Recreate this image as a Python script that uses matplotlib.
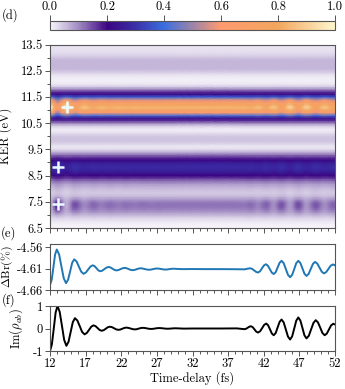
import numpy as np
import matplotlib
matplotlib.use('Agg')
import matplotlib.pyplot as plt
from matplotlib.colors import LinearSegmentedColormap
from matplotlib.ticker import MultipleLocator, FixedLocator, NullFormatter, FixedFormatter

plt.rcParams['font.family'] = 'serif'
plt.rcParams['font.serif'] = ['cmr10']
plt.rcParams['mathtext.fontset'] = 'cm'
plt.rcParams['axes.unicode_minus'] = False
plt.rcParams['axes.formatter.use_mathtext'] = True
plt.rcParams['font.size'] = 9

# ---------------- data ----------------
# Im(rho_ab) vs time-delay (fs)
t_im = [12.0, 12.26, 12.53, 12.79,
        13.05, 13.36, 13.68, 13.99,
        14.3, 14.6, 14.9, 15.2,
        15.5, 15.84, 16.18, 16.51,
        16.85, 17.16, 17.48, 17.79,
        18.1, 18.39, 18.68, 18.96,
        19.25, 19.54, 19.83, 20.11,
        20.4, 20.7, 21.0, 21.3,
        21.6, 21.88, 22.15, 22.43,
        22.7, 23.0, 23.3, 23.6,
        23.9, 24.18, 24.45, 24.73,
        25.0, 25.3, 25.6, 25.9,
        26.2, 26.48, 26.75, 27.03,
        27.3, 27.6, 27.9, 28.2,
        28.5, 28.78, 29.05, 29.33,
        29.6, 30.8, 32.0, 34.0,
        36.0, 38.2, 38.75,
        39.3, 39.53, 39.75, 39.98,
        40.2, 40.45, 40.7, 40.95,
        41.2, 41.49, 41.78, 42.06,
        42.35, 42.61, 42.88, 43.14,
        43.4, 43.68, 43.95, 44.23,
        44.5, 44.8, 45.1, 45.4,
        45.7, 45.99, 46.28, 46.56,
        46.85, 47.14, 47.43, 47.71,
        48.0, 48.33, 48.65, 48.98,
        49.3, 49.61, 49.93, 50.24,
        50.55, 50.85, 51.15, 51.45,
        51.75, 52.0]
im_rho = [-1.0, -0.71, 0.0, 0.71,
          1.0, 0.74, 0.115, -0.51,
          -0.77, -0.59, -0.155, 0.28,
          0.46, 0.355, 0.10, -0.155,
          -0.26, -0.20, -0.06, 0.08,
          0.14, 0.105, 0.02, -0.065,
          -0.10, -0.074, -0.01, 0.054,
          0.08, 0.06, 0.01, -0.04,
          -0.06, -0.045, -0.01, 0.025,
          0.04, 0.028, 0.0, -0.028,
          -0.04, -0.03, -0.005, 0.02,
          0.03, 0.023, 0.005, -0.013,
          -0.02, -0.014, 0.0, 0.014,
          0.02, 0.016, 0.005, -0.006,
          -0.01, -0.007, 0.0, 0.007,
          0.01, -0.005, 0.0, 0.0,
          0.0, 0.005, -0.012,
          -0.03, -0.011, 0.035, 0.081,
          0.10, 0.059, -0.04, -0.139,
          -0.18, -0.122, 0.02, 0.162,
          0.22, 0.144, -0.04, -0.224,
          -0.30, -0.198, 0.05, 0.298,
          0.40, 0.27, -0.045, -0.36,
          -0.49, -0.347, 0.0, 0.347,
          0.49, 0.354, 0.025, -0.304,
          -0.44, -0.322, -0.035, 0.252,
          0.37, 0.272, 0.035, -0.202,
          -0.30, -0.226, -0.045, 0.136,
          0.21, 0.18]

# Delta Br (%) vs time-delay (fs)
t_br = [12.0, 12.24, 12.48, 12.71,
        12.95, 13.28, 13.6, 13.93,
        14.25, 14.54, 14.83, 15.11,
        15.4, 15.73, 16.05, 16.38,
        16.7, 17.03, 17.35, 17.68,
        18.0, 18.26, 18.53, 18.79,
        19.05, 19.34, 19.63, 19.91,
        20.2, 20.49, 20.78, 21.06,
        21.35, 21.63, 21.9, 22.18,
        22.45, 22.74, 23.03, 23.31,
        23.6, 23.88, 24.15, 24.43,
        24.7, 25.0, 25.3, 25.6,
        25.9, 26.18, 26.45, 26.73,
        27.0, 27.3, 27.6, 27.9,
        28.2, 28.48, 28.75, 29.03,
        29.3, 30.5, 32.0, 34.0,
        36.0, 38.0, 39.3, 39.7,
        40.1, 40.38, 40.65, 40.93,
        41.2, 41.48, 41.75, 42.03,
        42.3, 42.58, 42.85, 43.13,
        43.4, 43.68, 43.95, 44.23,
        44.5, 44.8, 45.1, 45.4,
        45.7, 45.99, 46.28, 46.56,
        46.85, 47.14, 47.43, 47.71,
        48.0, 48.3, 48.6, 48.9,
        49.2, 49.51, 49.83, 50.14,
        50.45, 50.76, 51.08, 51.39,
        51.7, 52.0]
delta_br = [-4.648, -4.636, -4.6065, -4.577,
            -4.565, -4.5765, -4.6045, -4.6325,
            -4.644, -4.6358, -4.616, -4.5962,
            -4.588, -4.593, -4.605, -4.617,
            -4.622, -4.619, -4.612, -4.605,
            -4.602, -4.604, -4.609, -4.614,
            -4.616, -4.6145, -4.611, -4.6075,
            -4.606, -4.607, -4.610, -4.613,
            -4.614, -4.613, -4.611, -4.609,
            -4.608, -4.6088, -4.6108, -4.6127,
            -4.6135, -4.6128, -4.6113, -4.6097,
            -4.609, -4.6095, -4.6108, -4.612,
            -4.6125, -4.612, -4.611, -4.610,
            -4.6095, -4.6099, -4.6108, -4.6116,
            -4.612, -4.6117, -4.611, -4.6103,
            -4.610, -4.611, -4.6108, -4.611,
            -4.611, -4.6112, -4.6115, -4.610,
            -4.609, -4.6105, -4.614, -4.6175,
            -4.619, -4.616, -4.609, -4.6023,
            -4.5995, -4.6029, -4.611, -4.6191,
            -4.6225, -4.618, -4.607, -4.596,
            -4.5915, -4.5971, -4.6108, -4.6244,
            -4.630, -4.6244, -4.6108, -4.5971,
            -4.5915, -4.5967, -4.6093, -4.6218,
            -4.627, -4.6222, -4.6105, -4.5988,
            -4.594, -4.598, -4.6075, -4.617,
            -4.621, -4.618, -4.6105, -4.603,
            -4.600, -4.602]

# KER grid (eV) and time-averaged KER distribution + its modulation amplitude
ker = np.round(np.arange(6.5, 13.55, 0.1), 1)
ker_profile = [0.005, 0.005, 0.01, 0.02, 0.035, 0.06, 0.085, 0.105, 0.115, 0.12,
               0.11, 0.085, 0.06, 0.045, 0.045, 0.055, 0.07, 0.09, 0.12, 0.16,
               0.20, 0.24, 0.27, 0.285, 0.28, 0.255, 0.21, 0.165, 0.12, 0.07,
               0.03, 0.015, 0.03, 0.045, 0.05, 0.045, 0.03, 0.015, 0.015, 0.04,
               0.10, 0.17, 0.24, 0.42, 0.62, 0.74, 0.84, 0.78, 0.68, 0.56,
               0.38, 0.22, 0.17, 0.10, 0.04, 0.015, 0.01, 0.01, 0.015, 0.03,
               0.05, 0.06, 0.06, 0.06, 0.06, 0.05, 0.035, 0.025, 0.02, 0.02,
               0.02]
ker_modulation = [0, 0, 0, 0, 0.005, 0.01, 0.025, 0.045, 0.06, 0.065,
                  0.055, 0.03, 0.012, 0.008, 0.008, 0.01, 0.01, 0.008, 0.008, 0.008,
                  0.012, 0.02, 0.025, 0.025, 0.025, 0.02, 0.012, 0.008, 0, 0,
                  0, 0, 0, 0, 0, 0, 0, 0, 0, 0,
                  0, 0, -0.02, -0.06, -0.13, -0.16, -0.16, -0.16, -0.14, -0.09,
                  -0.04, -0.01, 0, 0, 0, 0, 0, 0, 0, 0,
                  0, 0, 0, 0, 0, 0, 0, 0, 0, 0,
                  0]

# marked points (time-delay, KER)
mark_t = [13.17, 13.17, 14.43]
mark_ker = [7.43, 8.83, 11.13]

xticks = [12, 17, 22, 27, 32, 37, 42, 47, 52]

# ---------------- figure ----------------
W, H = 345, 389
fig = plt.figure(figsize=(W / 100, H / 100), dpi=100)

def ax_at(x0, y0, x1, y1):
    return fig.add_axes([x0 / W, 1 - y1 / H, (x1 - x0) / W, (y1 - y0) / H])

cmap = LinearSegmentedColormap.from_list('ker', [
    (0.0, '#f8f6fb'), (0.1, '#a08ac2'), (0.2, '#3b0482'), (0.3, '#3a30a8'),
    (0.4, '#3a6ee0'), (0.6, '#ff9a70'), (0.8, '#f2a65e'), (1.0, '#fff6cc')])

spine_c = '#555555'

def style(ax):
    for s in ax.spines.values():
        s.set_color(spine_c)
        s.set_linewidth(0.8)
    ax.tick_params(which='both', direction='out', color=spine_c, width=0.7)
    ax.tick_params(which='major', length=3.5, pad=1.5)
    ax.tick_params(which='minor', length=2)

# heatmap
ax_d = ax_at(50, 44.5, 335, 228)
P = np.array(ker_profile)[:, None]
M = np.array(ker_modulation)[:, None]
C = np.clip(P + M * np.array(im_rho)[None, :], 0, 1)
mesh = ax_d.pcolormesh(np.array(t_im), ker, C, cmap=cmap, vmin=0, vmax=1,
                       shading='gouraud', rasterized=True)
ax_d.plot(mark_t, mark_ker, linestyle='none', marker='+', markersize=8,
          markeredgewidth=1.8, color='#eafcff')
ax_d.set_xlim(12, 52)
ax_d.set_ylim(6.5, 13.5)
ax_d.yaxis.set_major_locator(FixedLocator([6.5, 7.5, 8.5, 9.5, 10.5, 11.5, 12.5, 13.5]))
ax_d.yaxis.set_major_formatter(FixedFormatter(['6.5', '7.5', '8.5', '9.5', '10.5', '11.5', '12.5', '13.5']))
ax_d.yaxis.set_minor_locator(FixedLocator([7, 8, 9, 10, 11, 12, 13]))
ax_d.xaxis.set_major_locator(FixedLocator(xticks))
ax_d.xaxis.set_minor_locator(MultipleLocator(1))
ax_d.xaxis.set_major_formatter(NullFormatter())
ax_d.set_ylabel('KER (eV)')
ax_d.yaxis.set_label_coords((12.5 - 50) / 285, 0.5)
style(ax_d)

# colorbar
cax = ax_at(50, 20.5, 335, 30)
cb = fig.colorbar(mesh, cax=cax, orientation='horizontal')
cb.set_ticks([0, 0.2, 0.4, 0.6, 0.8, 1.0])
cb.set_ticklabels(['0.0', '0.2', '0.4', '0.6', '0.8', '1.0'])
cax.xaxis.set_ticks_position('top')
cax.xaxis.set_label_position('top')
cb.outline.set_edgecolor(spine_c)
cb.outline.set_linewidth(0.8)
cax.tick_params(direction='out', color=spine_c, width=0.7, length=4, pad=1.5)

# Delta Br
ax_e = ax_at(50, 244, 335, 290)
ax_e.plot(t_br, delta_br, color='#1f77b4', lw=1.4)
ax_e.set_xlim(12, 52)
ax_e.set_ylim(-4.66, -4.552)
ax_e.set_yticks([-4.66, -4.61, -4.56])
ax_e.set_yticklabels(['-4.66', '-4.61', '-4.56'])
ax_e.xaxis.set_major_locator(FixedLocator(xticks))
ax_e.xaxis.set_minor_locator(MultipleLocator(1))
ax_e.xaxis.set_major_formatter(NullFormatter())
ax_e.set_ylabel(r'$\Delta\mathrm{Br}(\%)$', fontsize=8.5)
ax_e.yaxis.set_label_coords((15 - 50) / 285, 0.5)
style(ax_e)

# Im rho
ax_f = ax_at(50, 306, 335, 351)
ax_f.plot(t_im, im_rho, color='black', lw=1.4)
ax_f.set_xlim(12, 52)
ax_f.set_ylim(-1, 1)
ax_f.set_yticks([-1, 0, 1])
ax_f.set_yticklabels(['-1', '0', '1'])
ax_f.xaxis.set_major_locator(FixedLocator(xticks))
ax_f.xaxis.set_minor_locator(MultipleLocator(1))
ax_f.set_xticklabels([str(v) for v in xticks])
ax_f.set_ylabel(r'$\mathrm{Im}(\rho_{ab})$')
ax_f.yaxis.set_label_coords((25 - 50) / 285, 0.5)
ax_f.set_xlabel('Time-delay (fs)', labelpad=1)
style(ax_f)

fig.text(10 / W, 1 - 15 / H, '(d)', ha='center', va='center')
fig.text(8 / W, 1 - 233 / H, '(e)', ha='center', va='center')
fig.text(9 / W, 1 - 300 / H, '(f)', ha='center', va='center')

fig.savefig('out.png', dpi=100)
